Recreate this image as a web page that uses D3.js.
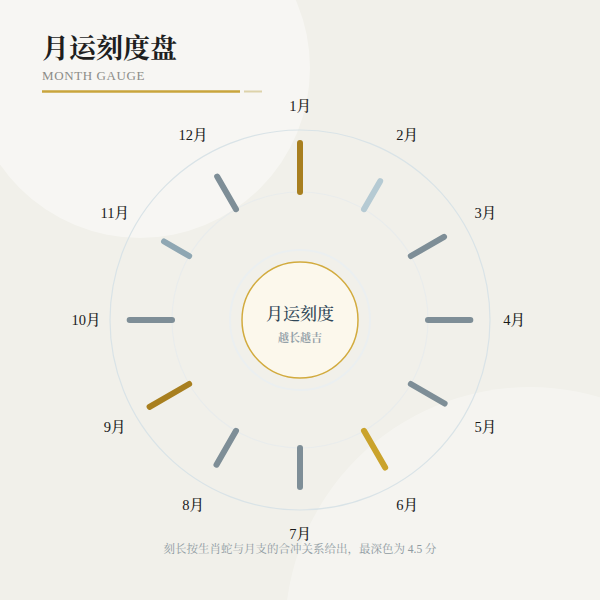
<!DOCTYPE html>
<html>
<head>
<meta charset="utf-8">
<script src="https://cdn.jsdelivr.net/npm/d3@7/dist/d3.min.js"></script>
<style>
  html, body { margin: 0; padding: 0; background: #f2f1eb; }
  svg { display: block; }
</style>
</head>
<body>
<svg id="chart" width="600" height="600"></svg>
<script>
// ---- data ----
const months = ["1月","2月","3月","4月","5月","6月","7月","8月","9月","10月","11月","12月"];
const scores = [4.5, 2, 2.9, 3.5, 3, 3.5, 3, 3, 4, 3.5, 1.5, 2.8];
const relations = ["三合","害","平","平","平","半合","平","平","三合","平","冲","平"];
const relationTypes = ["三合","半合","平","冲","害"];
const maxScore = 4.5;

const titleText = "月运刻度盘";
const subtitleText = "MONTH GAUGE";
const centerTitle = "月运刻度";
const centerSub = "越长越吉";
const footText = "刻长按生肖蛇与月支的合冲关系给出，最深色为 4.5 分";

// ---- drawing ----
const svg = d3.select("#chart");
const W = 600, H = 600;
const cx = 300, cy = 320;
const serif = "'Liberation Serif','Noto Serif CJK SC','Noto Sans CJK SC',serif";

// background
svg.append("rect").attr("width", W).attr("height", H).attr("fill", "#f1f0ea");
svg.append("circle").attr("cx", 140).attr("cy", 68).attr("r", 170)
  .attr("fill", "#ffffff").attr("opacity", 0.42);
svg.append("circle").attr("cx", 530).attr("cy", 632).attr("r", 245)
  .attr("fill", "#ffffff").attr("opacity", 0.3);

// title
svg.append("text").attr("x", 42).attr("y", 58).text(titleText)
  .attr("font-family", serif).attr("font-size", 27).attr("font-weight", "bold")
  .attr("fill", "#1e1e1e");
svg.append("text").attr("x", 42).attr("y", 80).text(subtitleText)
  .attr("font-family", serif).attr("font-size", 13).attr("letter-spacing", 0.6)
  .attr("fill", "#8c8c88");
svg.append("line").attr("x1", 42).attr("x2", 240).attr("y1", 91.5).attr("y2", 91.5)
  .attr("stroke", "#c9a53c").attr("stroke-width", 2.5);
svg.append("line").attr("x1", 244).attr("x2", 262).attr("y1", 91.5).attr("y2", 91.5)
  .attr("stroke", "#ddd3aa").attr("stroke-width", 2);

const g = svg.append("g").attr("transform", `translate(${cx},${cy})`);

// rings
g.append("circle").attr("r", 190).attr("fill", "none").attr("stroke", "#d9e3e7").attr("stroke-width", 1.2);
g.append("circle").attr("r", 128).attr("fill", "none").attr("stroke", "#e9ecec").attr("stroke-width", 1.2);
g.append("circle").attr("r", 70).attr("fill", "none").attr("stroke", "#ebeff0").attr("stroke-width", 2);

// scales
const angle = d3.scaleLinear().domain([0, months.length]).range([0, 2 * Math.PI]);
const r0 = 128;
const len = d3.scaleLinear().domain([0, maxScore]).range([19, 49]);
const color = d3.scaleOrdinal().domain(relationTypes)
  .range(["#a87f1f", "#caa32c", "#7e8e97", "#8fa7b3", "#b5cad3"]);

const data = months.map((m, i) => ({ month: m, score: scores[i], rel: relations[i], i }));

const px = (r, a) => r * Math.sin(a);
const py = (r, a) => -r * Math.cos(a);

g.selectAll("line.tick").data(data).join("line").attr("class", "tick")
  .attr("x1", d => px(r0, angle(d.i)))
  .attr("y1", d => py(r0, angle(d.i)))
  .attr("x2", d => px(r0 + len(d.score), angle(d.i)))
  .attr("y2", d => py(r0 + len(d.score), angle(d.i)))
  .attr("stroke", d => color(d.rel))
  .attr("stroke-width", 6)
  .attr("stroke-linecap", "round");

// month labels
const rl = 214;
g.selectAll("text.month").data(data).join("text").attr("class", "month")
  .attr("x", d => px(rl, angle(d.i)))
  .attr("y", d => py(rl, angle(d.i)))
  .attr("text-anchor", "middle").attr("dominant-baseline", "central")
  .attr("font-family", serif).attr("font-size", 14.5).attr("font-weight", 500)
  .attr("fill", "#1a1a1a")
  .text(d => d.month);

// center
g.append("circle").attr("r", 58).attr("fill", "#fcf8ec")
  .attr("stroke", "#d2ab3e").attr("stroke-width", 1.5);
g.append("text").attr("y", -6).attr("text-anchor", "middle").attr("dominant-baseline", "central")
  .attr("font-family", serif).attr("font-size", 17).attr("font-weight", 500)
  .attr("fill", "#2f4657").text(centerTitle);
g.append("text").attr("y", 18).attr("text-anchor", "middle").attr("dominant-baseline", "central")
  .attr("font-family", serif).attr("font-size", 11).attr("font-weight", "bold")
  .attr("fill", "#94a1a8").text(centerSub);

// footnote
svg.append("text").attr("x", 300).attr("y", 553).attr("text-anchor", "middle")
  .attr("font-family", serif).attr("font-size", 11.5).attr("fill", "#8e9aa1")
  .text(footText);
</script>
</body>
</html>
